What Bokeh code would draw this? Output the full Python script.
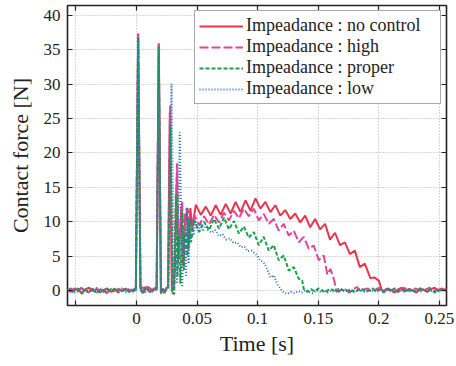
from bokeh.plotting import figure
from bokeh.models import Range1d, LinearAxis, FixedTicker, CustomLabelingPolicy
from bokeh.embed import file_html
from bokeh.resources import INLINE

# ---------------- data ----------------
t_red = [
    -0.057, -0.054, -0.051, -0.048, -0.045, -0.042, -0.039, -0.036, -0.033, -0.030,
    -0.027, -0.024, -0.021, -0.018, -0.015, -0.012, -0.009, -0.006, -0.003, -0.0005,
    0.0014, 0.0033, 0.005, 0.007, 0.009, 0.011, 0.013, 0.015, 0.0166, 0.0184,
    0.0202, 0.0215, 0.023, 0.0245, 0.026, 0.0275, 0.0292, 0.031, 0.0322, 0.0333,
    0.0345, 0.036, 0.0372, 0.0385, 0.040, 0.0415, 0.043, 0.0445, 0.046, 0.0490,
    0.0531, 0.0572, 0.0613, 0.0654, 0.0695, 0.0736, 0.0777, 0.0818, 0.0859, 0.0900,
    0.0941, 0.0982, 0.1023, 0.1064, 0.1105, 0.1146, 0.1187, 0.1228, 0.1269, 0.1310,
    0.1351, 0.1392, 0.1433, 0.1474, 0.1515, 0.1556, 0.1597, 0.1638, 0.1679, 0.1720,
    0.1761, 0.1802, 0.1843, 0.1884, 0.1930, 0.1966, 0.2000, 0.2021, 0.204, 0.207,
    0.210, 0.213, 0.216, 0.219, 0.222, 0.225, 0.228, 0.231, 0.234, 0.237,
    0.240, 0.243, 0.246, 0.249, 0.252, 0.255]
f_red = [
    0.1, -0.2, 0.3, 0.0, -0.3, 0.2, 0.4, -0.1, 0.2, -0.3,
    0.1, 0.3, -0.2, 0.0, 0.2, -0.1, 0.3, -0.2, 0.1, 0.3,
    37.3, 0.4, -0.4, 0.5, 0.2, 0.4, -0.2, 0.3, 0.2, 35.9,
    -0.3, 0.2, -0.4, 0.3, 0.6, 26.0, 0.0, 1.0, 8.0, 16.5,
    4.5, 8.5, 12.2, 3.5, 10.0, 11.5, 6.0, 12.0, 9.0, 12.5,
    11.0, 12.2, 10.9, 12.4, 11.0, 12.6, 11.2, 12.9, 11.4, 13.1,
    11.6, 13.4, 11.9, 12.9, 11.4, 12.4, 10.9, 11.7, 10.4, 11.2,
    9.9, 10.9, 9.2, 10.4, 8.9, 9.7, 7.4, 8.4, 6.6, 7.0,
    5.3, 5.8, 3.4, 3.9, 1.8, 1.9, 1.4, 0.2, -0.2, 0.3,
    0.1, -0.3, 0.2, 0.4, -0.1, 0.2, 0.0, -0.3, 0.3, 0.1,
    -0.2, 0.2, 0.4, -0.1, 0.3, 0.0]

t_pink = [
    -0.057, -0.0545, -0.0515, -0.0485, -0.0455, -0.0425, -0.0395, -0.0365, -0.0335, -0.0305,
    -0.0275, -0.0245, -0.0215, -0.0185, -0.0155, -0.0125, -0.0095, -0.0065, -0.0035, -0.0005,
    0.0014, 0.0033, 0.0052, 0.0072, 0.0092, 0.0112, 0.0132, 0.0152, 0.0166, 0.0184,
    0.0202, 0.0217, 0.0232, 0.0247, 0.026, 0.0278, 0.0295, 0.031, 0.0322, 0.0335,
    0.0348, 0.0362, 0.0377, 0.0388, 0.040, 0.0415, 0.043, 0.0445, 0.0476, 0.0517,
    0.0558, 0.0599, 0.0640, 0.0681, 0.0722, 0.0763, 0.0804, 0.0845, 0.0886, 0.0927,
    0.0968, 0.1009, 0.1050, 0.1092, 0.1133, 0.1174, 0.1215, 0.1257, 0.1298, 0.1339,
    0.1380, 0.1422, 0.1463, 0.1504, 0.1545, 0.1575, 0.1600, 0.1632, 0.1645, 0.167,
    0.170, 0.173, 0.176, 0.179, 0.182, 0.185, 0.188, 0.191, 0.194, 0.197,
    0.200, 0.203, 0.206, 0.209, 0.212, 0.215, 0.218, 0.221, 0.224, 0.227,
    0.230, 0.233, 0.236, 0.239, 0.242, 0.245, 0.248, 0.251, 0.254, 0.2565]
f_pink = [
    -0.1, 0.3, 0.1, -0.2, 0.4, 0.0, -0.3, 0.2, 0.5, -0.1,
    0.2, -0.4, 0.1, 0.3, -0.2, 0.4, 0.0, 0.2, -0.3, 0.2,
    37.4, 0.3, 0.5, -0.3, 0.6, 0.2, -0.1, 0.4, 0.3, 36.0,
    -0.5, 0.3, -0.2, 0.4, 0.5, 26.9, -0.3, 0.5, 10.0, 18.5,
    5.8, 9.0, 13.0, 4.4, 11.0, 12.0, 11.6, 8.0, 11.0, 9.5,
    10.8, 9.6, 11.0, 9.9, 11.3, 10.2, 11.6, 10.5, 11.9, 10.8,
    11.9, 10.2, 11.15, 9.7, 10.4, 8.7, 9.7, 8.0, 8.7, 7.0,
    7.8, 6.06, 6.55, 4.4, 5.1, 2.3, 3.15, 1.45, 0.2, -0.2,
    0.3, 0.1, -0.3, 0.2, 0.5, -0.1, 0.2, 0.3, -0.2, 0.1,
    0.4, -0.1, 0.2, 0.0, 0.3, -0.2, 0.2, 0.4, 0.0, -0.1,
    0.3, 0.1, -0.2, 0.2, 0.4, -0.1, 0.2, 0.0, 0.3, 0.1]

t_green = [
    -0.057, -0.054, -0.051, -0.048, -0.045, -0.042, -0.039, -0.036, -0.033, -0.030,
    -0.027, -0.024, -0.021, -0.018, -0.015, -0.012, -0.009, -0.006, -0.003, -0.0005,
    0.0014, 0.0033, 0.0055, 0.0075, 0.0095, 0.0115, 0.0135, 0.0155, 0.0167, 0.0184,
    0.0202, 0.0218, 0.0233, 0.0248, 0.0262, 0.0280, 0.0298, 0.0312, 0.0325, 0.0338,
    0.0350, 0.0362, 0.0378, 0.0392, 0.0405, 0.0420, 0.0435, 0.0450, 0.0476, 0.0517,
    0.0558, 0.0599, 0.0640, 0.0681, 0.0722, 0.0763, 0.0804, 0.0845, 0.0886, 0.0927,
    0.0968, 0.1009, 0.1050, 0.1092, 0.1133, 0.1174, 0.1215, 0.1257, 0.1298, 0.1339,
    0.1367, 0.1380, 0.141, 0.144, 0.147, 0.150, 0.153, 0.156, 0.159, 0.162,
    0.165, 0.168, 0.171, 0.174, 0.177, 0.180, 0.183, 0.186, 0.189, 0.192,
    0.195, 0.198, 0.201, 0.204, 0.207, 0.210, 0.213, 0.216, 0.219, 0.222,
    0.225, 0.228, 0.231, 0.234, 0.237, 0.240, 0.243, 0.246, 0.249, 0.252,
    0.255]
f_green = [
    0.2, -0.3, 0.0, 0.3, -0.5, 0.1, -0.2, 0.3, -0.4, 0.1,
    -0.2, 0.2, -0.1, 0.3, -0.3, 0.0, 0.2, -0.2, 0.1, 0.0,
    36.8, 0.2, -0.4, 0.3, 0.1, -0.3, 0.2, 0.0, 0.2, 35.5,
    -0.4, 0.1, -0.3, 0.2, 0.3, 24.0, -0.4, -0.5, 14.0, 2.0,
    8.0, 1.0, 11.5, 3.0, 9.0, 5.0, 10.5, 7.0, 10.3, 8.5,
    10.0, 8.8, 10.4, 9.0, 10.6, 8.9, 10.1, 8.3, 9.3, 7.7,
    8.5, 6.6, 7.8, 5.8, 6.6, 4.4, 5.1, 2.9, 3.4, 1.7,
    1.45, 0.24, -0.2, 0.2, -0.1, 0.3, 0.0, -0.3, 0.2, 0.1,
    -0.2, 0.3, 0.0, -0.1, 0.2, -0.3, 0.1, 0.2, -0.2, 0.0,
    0.3, -0.1, 0.1, -0.3, 0.2, 0.0, 0.3, -0.2, 0.1, -0.1,
    0.2, 0.0, -0.2, 0.3, 0.1, -0.1, 0.2, -0.3, 0.0, 0.2,
    0.1]

t_blue = [
    -0.057, -0.054, -0.051, -0.048, -0.045, -0.042, -0.039, -0.036, -0.033, -0.030,
    -0.027, -0.024, -0.021, -0.018, -0.015, -0.012, -0.009, -0.006, -0.003, -0.0005,
    0.0014, 0.0033, 0.0053, 0.0073, 0.0093, 0.0113, 0.0133, 0.0153, 0.0167, 0.0184,
    0.0202, 0.0218, 0.0233, 0.0248, 0.0265, 0.0289, 0.0310, 0.0325, 0.0335, 0.0357,
    0.0377, 0.0395, 0.0410, 0.0418, 0.0430, 0.0445, 0.0470, 0.0490, 0.0510, 0.0530,
    0.0550, 0.0570, 0.0590, 0.0620, 0.0650, 0.0680, 0.0710, 0.0740, 0.0770, 0.0800,
    0.0830, 0.0860, 0.0890, 0.0920, 0.0950, 0.0996, 0.1020, 0.1050, 0.1078, 0.1106,
    0.1133, 0.1160, 0.1188, 0.1215, 0.1245, 0.1275, 0.1305, 0.1335, 0.1365, 0.1395,
    0.1425, 0.1455, 0.1485, 0.1515, 0.1545, 0.1575, 0.1605, 0.1635, 0.1665, 0.1695,
    0.1725, 0.1755, 0.1785, 0.1815, 0.1845, 0.1875, 0.1905, 0.1935, 0.1965, 0.1995,
    0.2025, 0.2055, 0.2085, 0.2115, 0.2145, 0.2175, 0.2205, 0.2235, 0.2265, 0.2295,
    0.2325, 0.2355, 0.2385, 0.2415, 0.2445, 0.2475, 0.2505, 0.2535, 0.2560]
f_blue = [
    -0.1, 0.2, -0.3, 0.1, 0.3, -0.2, 0.0, 0.2, -0.4, 0.3,
    0.0, -0.2, 0.2, -0.1, 0.1, 0.3, -0.3, 0.1, 0.2, -0.1,
    36.8, 0.1, -0.3, 0.2, 0.0, -0.2, 0.3, -0.1, 0.1, 35.5,
    -0.3, 0.2, -0.1, 0.3, 0.2, 30.1, 0.5, 5.0, 1.0, 23.0,
    0.5, 8.0, 2.0, 12.1, 3.9, 10.5, 8.0, 10.0, 8.5, 9.8,
    8.6, 9.6, 8.8, 8.4, 8.8, 7.9, 8.2, 7.4, 7.6, 6.9,
    7.0, 6.3, 6.4, 5.7, 5.8, 5.1, 4.4, 4.1, 3.1, 1.9,
    2.2, 1.0, 0.24, -0.3, -0.5, -0.2, -0.4, -0.1, -0.3, 0.1,
    -0.2, -0.4, 0.0, -0.2, 0.1, -0.3, 0.0, -0.2, 0.2, -0.1,
    0.0, -0.3, 0.1, -0.1, 0.2, -0.2, 0.0, 0.1, -0.2, 0.2,
    -0.1, 0.0, 0.2, -0.3, 0.1, 0.0, -0.2, 0.1, 0.2, -0.1,
    0.0, 0.2, -0.1, 0.1, -0.2, 0.0, 0.2, -0.1, 0.0]

labels = ["Impeadance : no control", "Impeadance : high",
          "Impeadance : proper", "Impeadance : low"]
x_ticks = [-0.05, 0, 0.05, 0.1, 0.15, 0.2, 0.25]
x_tick_labels = ["-0.05", "0", "0.05", "0.1", "0.15", "0.2", "0.25"]
y_ticks = [0, 5, 10, 15, 20, 25, 30, 35, 40]

# ---------------- figure ----------------
FONT = "Liberation Serif"
p = figure(width=456, height=366,
           x_range=Range1d(-0.0569, 0.2558), y_range=Range1d(-2.18, 41.45),
           output_backend="svg", toolbar_location=None,
           min_border_left=67, min_border_right=10,
           min_border_top=5, min_border_bottom=61,
           x_axis_label="Time [s]", y_axis_label="Contact force [N]")
p.background_fill_color = "white"
p.border_fill_color = "white"
p.outline_line_color = "#222222"
p.outline_line_width = 1.6

for ax, ticks in ((p.xaxis[0], x_ticks), (p.yaxis[0], y_ticks)):
    ax.ticker = FixedTicker(ticks=ticks)
    ax.major_tick_in = 5
    ax.major_tick_out = 0
    ax.major_tick_line_color = "#222222"
    ax.major_tick_line_width = 1.2
    ax.minor_tick_line_color = None
    ax.axis_line_color = None
    ax.major_label_text_font = FONT
    ax.major_label_text_font_size = "17px"
    ax.major_label_text_color = "#222222"
    ax.axis_label_text_font = FONT
    ax.axis_label_text_font_size = "22px"
    ax.axis_label_text_font_style = "normal"
    ax.axis_label_text_color = "#222222"

# the leftmost x tick (-0.05) carries no label in the reference
p.xaxis[0].major_label_overrides = dict(zip(x_ticks, x_tick_labels))
p.xaxis[0].major_label_policy = CustomLabelingPolicy(
    code="indices.unset(0); return indices")
p.xaxis[0].major_label_standoff = 7
p.xaxis[0].axis_label_standoff = 4
p.yaxis[0].major_label_standoff = 7
p.yaxis[0].axis_label_standoff = 8

# mirrored ticks on top and right (no labels)
for loc, ticks in (("right", y_ticks), ("above", x_ticks)):
    a = LinearAxis(ticker=FixedTicker(ticks=ticks), major_tick_in=5, major_tick_out=0,
                   major_tick_line_color="#222222", major_tick_line_width=1.2,
                   minor_tick_line_color=None, axis_line_color=None,
                   major_label_text_font_size="1px", major_label_standoff=0,
                   major_label_policy=CustomLabelingPolicy(
                       code="for (const i of Array.from(indices)) indices.unset(i); return indices"))
    p.add_layout(a, loc)

p.xgrid.ticker = FixedTicker(ticks=x_ticks)
p.ygrid.ticker = FixedTicker(ticks=y_ticks)
for g in (p.xgrid[0], p.ygrid[0]):
    g.grid_line_color = "#b0b0b0"
    g.grid_line_dash = "1 2"
    g.grid_line_width = 1

p.line(t_red, f_red, color="#e8364c", line_width=2, legend_label=labels[0])
p.line(t_pink, f_pink, color="#e0449c", line_width=2, line_dash="9 3", legend_label=labels[1])
p.line(t_green, f_green, color="#17a14a", line_width=2, line_dash="4 2", legend_label=labels[2])
p.line(t_blue, f_blue, color="#2e72bc", line_width=2, line_dash="1 2", legend_label=labels[3])

lg = p.legend[0]
lg.location = "top_right"
lg.margin = 5
lg.padding = 4
lg.spacing = 0
lg.glyph_width = 44
lg.glyph_height = 20
lg.label_height = 20
lg.label_width = 190
lg.label_standoff = 3
lg.label_text_font = FONT
lg.label_text_font_size = "18px"
lg.label_text_color = "#222222"
lg.border_line_color = "#555555"
lg.border_line_width = 1.5
lg.background_fill_alpha = 1.0

open("out.html", "w").write(file_html(p, INLINE))
